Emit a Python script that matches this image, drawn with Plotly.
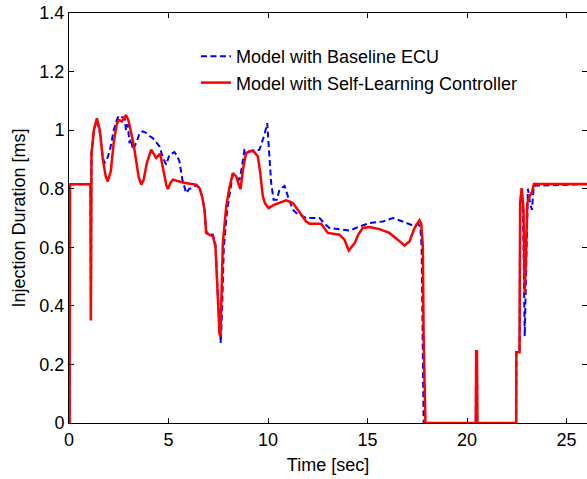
import plotly.graph_objects as go

# Time [sec] and Injection Duration [ms]
t_baseline = [0, 0.03, 0.05, 1.08, 1.10, 1.13, 1.25, 1.40, 1.55, 1.70, 1.78, 1.87, 2.05, 2.25, 2.40, 2.50,
              2.65, 2.79, 2.87, 2.95, 3.04, 3.12, 3.21, 3.40, 3.55, 3.71, 3.90, 4.05, 4.21, 4.40, 4.55,
              4.70, 4.88, 5.05, 5.30, 5.45, 5.55, 5.70, 5.89, 6.05, 6.22, 6.39, 6.56, 6.70, 6.81, 6.89,
              7.00, 7.23, 7.36, 7.47, 7.58, 7.63, 7.70, 7.78, 7.95, 8.10, 8.23, 8.40, 8.57, 8.70, 8.82,
              9.24, 9.57, 9.70, 9.82, 9.96, 10.04, 10.16, 10.28, 10.44, 10.58, 10.83, 11.00, 11.25, 11.42,
              11.92, 12.59, 12.85, 13.09, 13.59, 14.10, 14.60, 15.10, 15.77, 16.27, 16.77, 17.28, 17.53,
              17.65, 17.72, 17.78, 17.82, 20.44, 20.46, 20.50, 20.52, 22.47, 22.48, 22.64, 22.67, 22.75,
              22.82, 22.90, 22.97, 23.06, 23.15, 23.26, 23.36, 26.2]
v_baseline = [0, 0, 0.815, 0.815, 0.35, 0.92, 1.00, 1.035, 0.99, 0.91, 0.888, 0.893, 0.93, 1.00, 1.035, 1.049,
              1.045, 1.041, 1.00, 1.02, 0.956, 0.97, 0.933, 0.96, 0.99, 0.996, 0.99, 0.98, 0.973, 0.955, 0.944,
              0.91, 0.882, 0.916, 0.925, 0.91, 0.893, 0.83, 0.785, 0.80, 0.802, 0.812, 0.802, 0.77, 0.73, 0.655,
              0.645, 0.643, 0.61, 0.45, 0.30, 0.273, 0.40, 0.60, 0.73, 0.80, 0.848, 0.84, 0.83, 0.88, 0.933,
              0.927, 0.933, 0.96, 0.984, 1.024, 0.933, 0.819, 0.762, 0.762, 0.797, 0.81, 0.774, 0.728, 0.717,
              0.70, 0.70, 0.68, 0.666, 0.662, 0.657, 0.671, 0.683, 0.688, 0.70, 0.688, 0.674, 0.68,
              0.671, 0.60, 0.20, 0, 0, 0.245, 0.245, 0, 0, 0.242, 0.242, 0.75, 0.80,
              0.70, 0.296, 0.55, 0.80, 0.76, 0.728, 0.81, 0.816]

t_selflearn = [0, 0.03, 0.05, 1.08, 1.10, 1.13, 1.25, 1.40, 1.55, 1.70, 1.85, 1.95, 2.10, 2.25, 2.40, 2.50,
               2.65, 2.87, 3.00, 3.12, 3.25, 3.38, 3.50, 3.63, 3.75, 3.91, 4.05, 4.13, 4.25, 4.38, 4.58,
               4.75, 4.90, 4.97, 5.10, 5.22, 5.50, 5.72, 6.00, 6.39, 6.56, 6.70, 6.81, 6.89, 7.00, 7.23,
               7.36, 7.45, 7.56, 7.61, 7.66, 7.73, 7.90, 8.05, 8.23, 8.40, 8.55, 8.62, 8.75, 8.90, 9.24,
               9.49, 9.60, 9.66, 9.74, 9.85, 10.03, 10.30, 10.58, 10.91, 11.25, 11.58, 11.92, 12.09, 12.67,
               13.00, 13.30, 13.59, 13.84, 14.06, 14.35, 14.55, 14.76, 15.10, 15.60, 16.10, 16.52, 16.86,
               17.11, 17.36, 17.61, 17.70, 17.78, 17.82, 17.91, 20.44, 20.46, 20.50, 20.52, 22.47, 22.48,
               22.64, 22.67, 22.75, 22.84, 22.90, 22.97, 23.03, 23.14, 23.28, 23.36, 26.2]
v_selflearn = [0, 0, 0.815, 0.815, 0.35, 0.92, 1.00, 1.04, 1.00, 0.90, 0.84, 0.825, 0.86, 0.96, 1.02, 1.035,
               1.03, 1.052, 1.03, 0.99, 0.95, 0.893, 0.84, 0.814, 0.83, 0.888, 0.92, 0.933, 0.92, 0.905, 0.919,
               0.86, 0.81, 0.799, 0.82, 0.831, 0.825, 0.821, 0.818, 0.814, 0.802, 0.77, 0.728, 0.649, 0.645, 0.637,
               0.603, 0.45, 0.307, 0.295, 0.40, 0.614, 0.739, 0.80, 0.853, 0.842, 0.81, 0.799, 0.87, 0.922, 0.931,
               0.910, 0.86, 0.83, 0.774, 0.75, 0.734, 0.745, 0.751, 0.76, 0.751, 0.722, 0.688, 0.68, 0.68,
               0.649, 0.645, 0.643, 0.626, 0.589, 0.614, 0.645, 0.666, 0.669, 0.662, 0.649, 0.626, 0.606,
               0.62, 0.666, 0.692, 0.68, 0.603, 0.30, 0, 0, 0.245, 0.245, 0, 0, 0.242,
               0.242, 0.751, 0.802, 0.728, 0.444, 0.592, 0.751, 0.774, 0.791, 0.816, 0.816]

x_ticks = [0, 5, 10, 15, 20, 25]
y_ticks = [0, 0.2, 0.4, 0.6, 0.8, 1.0, 1.2, 1.4]
y_tick_labels = ["0", "0.2", "0.4", "0.6", "0.8", "1", "1.2", "1.4"]

FONT = "Liberation Sans, Arial, Helvetica, sans-serif"

fig = go.Figure()
fig.add_trace(go.Scatter(x=t_baseline, y=v_baseline, mode="lines",
                         name="Model with Baseline ECU",
                         line=dict(color="#0000FF", width=2, dash="6px,3.5px")))
fig.add_trace(go.Scatter(x=t_selflearn, y=v_selflearn, mode="lines",
                         name="Model with Self-Learning Controller",
                         line=dict(color="#FF0000", width=2.5)))

axis_common = dict(showgrid=False, zeroline=False, showline=True, linecolor="black", linewidth=1,
                   mirror="ticks", ticks="inside", ticklen=5, tickcolor="black", tickwidth=1,
                   automargin=False, ticklabeloverflow="allow",
                   tickfont=dict(family=FONT, size=18, color="black"))

fig.update_layout(
    width=587, height=479,
    margin=dict(l=69, r=0, t=13, b=56),
    paper_bgcolor="white", plot_bgcolor="white",
    font=dict(family=FONT, size=18, color="black"),
    xaxis=dict(range=[0, 26.03], tickvals=x_ticks,
               title=dict(text="Time [sec]", font=dict(family=FONT, size=18), standoff=9),
               **axis_common),
    yaxis=dict(range=[0, 1.4], tickvals=y_ticks, ticktext=y_tick_labels,
               title=dict(text="Injection Duration [ms]", font=dict(family=FONT, size=18), standoff=9),
               **axis_common),
    legend=dict(x=0.245, y=0.939, xanchor="left", yanchor="top", bgcolor="rgba(0,0,0,0)",
                borderwidth=0, font=dict(family=FONT, size=18, color="black")),
    showlegend=True,
)

fig.write_html("out.html", config={"displayModeBar": False},
               post_script="document.body.style.margin='0';document.body.style.overflow='hidden';")
